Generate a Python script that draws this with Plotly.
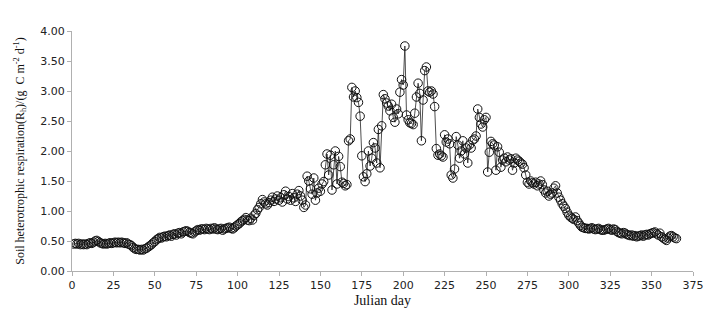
import plotly.graph_objects as go

# Julian days 1..365
days = list(range(1, 366))

# Soil heterotrophic respiration (g C m-2 d-1), day by day
rh_001_050 = [0.45,0.46,0.45,0.46,0.44,0.45,0.44,0.45,0.44,0.46,
              0.47,0.46,0.48,0.50,0.51,0.49,0.47,0.46,0.45,0.46,
              0.45,0.46,0.47,0.46,0.47,0.48,0.47,0.48,0.47,0.48,
              0.47,0.46,0.47,0.45,0.44,0.42,0.39,0.37,0.36,0.36,
              0.35,0.36,0.35,0.37,0.38,0.40,0.42,0.44,0.47,0.49]
rh_051_100 = [0.52,0.54,0.56,0.55,0.57,0.58,0.57,0.59,0.60,0.58,
              0.61,0.62,0.60,0.63,0.64,0.62,0.65,0.66,0.67,0.66,
              0.64,0.63,0.62,0.65,0.67,0.69,0.68,0.70,0.70,0.69,
              0.71,0.70,0.69,0.71,0.70,0.72,0.70,0.69,0.70,0.71,
              0.68,0.70,0.71,0.72,0.73,0.71,0.70,0.72,0.75,0.77]
rh_101_150 = [0.79,0.82,0.84,0.86,0.89,0.85,0.84,0.88,0.85,0.93,
              0.96,1.02,1.06,1.12,1.19,1.15,1.12,1.10,1.14,1.18,
              1.23,1.16,1.20,1.25,1.18,1.22,1.15,1.27,1.33,1.20,
              1.24,1.18,1.29,1.22,1.16,1.28,1.34,1.25,1.18,1.06,
              1.10,1.58,1.50,1.37,1.28,1.55,1.18,1.30,1.38,1.33]
rh_151_200 = [1.45,1.49,1.77,1.95,1.60,1.93,1.35,1.77,2.00,1.45,
              1.91,1.74,1.48,1.46,1.42,1.44,2.17,2.20,3.06,2.90,
              3.00,2.89,2.81,2.58,1.92,1.57,1.49,1.62,2.00,1.75,
              1.88,2.14,2.05,1.80,2.36,1.72,2.42,2.94,2.87,2.80,
              2.75,2.67,2.78,2.56,2.48,2.70,2.62,2.98,3.19,3.10]
rh_201_250 = [3.75,2.60,2.52,2.47,2.46,2.44,2.63,2.90,3.13,2.96,
              2.17,2.85,3.34,3.40,3.00,2.98,3.00,2.95,2.74,2.04,
              1.93,1.95,1.92,1.90,2.27,2.15,2.20,2.12,1.60,1.55,
              1.70,2.24,2.10,1.88,2.00,2.17,1.95,2.05,1.80,2.10,
              2.05,2.18,2.20,2.25,2.70,2.56,2.45,2.40,2.52,2.56]
rh_251_300 = [1.65,1.98,2.16,2.12,2.10,1.68,2.07,1.98,1.73,1.85,
              1.88,1.82,1.90,1.85,1.87,1.68,1.80,1.88,1.85,1.83,
              1.80,1.78,1.72,1.60,1.48,1.45,1.50,1.47,1.45,1.48,
              1.42,1.45,1.50,1.44,1.35,1.30,1.33,1.25,1.28,1.30,
              1.38,1.42,1.30,1.23,1.18,1.12,1.08,1.04,0.98,0.93]
rh_301_365 = [0.90,0.88,0.86,0.90,0.84,0.80,0.76,0.73,0.72,0.71,
              0.71,0.70,0.71,0.72,0.70,0.69,0.70,0.71,0.69,0.68,
              0.68,0.69,0.70,0.71,0.69,0.68,0.70,0.69,0.66,0.64,
              0.63,0.62,0.64,0.63,0.61,0.60,0.59,0.60,0.58,0.59,
              0.57,0.58,0.59,0.60,0.58,0.60,0.61,0.60,0.62,0.63,
              0.64,0.65,0.62,0.60,0.63,0.57,0.55,0.53,0.51,0.55,
              0.58,0.59,0.57,0.55,0.54]

rh = rh_001_050 + rh_051_100 + rh_101_150 + rh_151_200 + rh_201_250 + rh_251_300 + rh_301_365

x_ticks = [0, 25, 50, 75, 100, 125, 150, 175, 200, 225, 250, 275, 300, 325, 350, 375]
y_ticks = [0.0, 0.5, 1.0, 1.5, 2.0, 2.5, 3.0, 3.5, 4.0]

fig = go.Figure()
fig.add_trace(go.Scatter(
    x=days, y=rh, mode="lines+markers",
    line=dict(color="#222222", width=0.8),
    marker=dict(symbol="circle-open", size=8.5, color="#111111", line=dict(width=1)),
    showlegend=False,
))

axis_font = dict(family="DejaVu Sans", size=11, color="#222222")
fig.update_layout(
    width=720, height=319,
    margin=dict(l=72, r=27, t=31, b=48),
    paper_bgcolor="white", plot_bgcolor="white",
    xaxis=dict(
        range=[0, 375], tickvals=x_ticks, ticktext=[str(t) for t in x_ticks],
        showgrid=False, zeroline=False, showline=True, linecolor="#b0b0b0", linewidth=1,
        ticks="outside", ticklen=4, tickcolor="#b0b0b0", tickfont=axis_font,
        title=dict(text="Julian day", font=dict(family="Liberation Serif", size=14, color="#111111"), standoff=3),
    ),
    yaxis=dict(
        range=[0, 4], tickvals=y_ticks, ticktext=["%.2f" % t for t in y_ticks],
        showgrid=False, zeroline=False, showline=True, linecolor="#b0b0b0", linewidth=1,
        ticks="outside", ticklen=4, tickcolor="#b0b0b0", tickfont=axis_font,
        title=dict(text="Soil heterotrophic respiration(R<sub>h</sub>)/(g  C m<sup>-2</sup> d<sup>-1</sup>)",
                   font=dict(family="Liberation Serif", size=12, color="#111111"), standoff=13),
    ),
)

fig.write_html("out.html")
